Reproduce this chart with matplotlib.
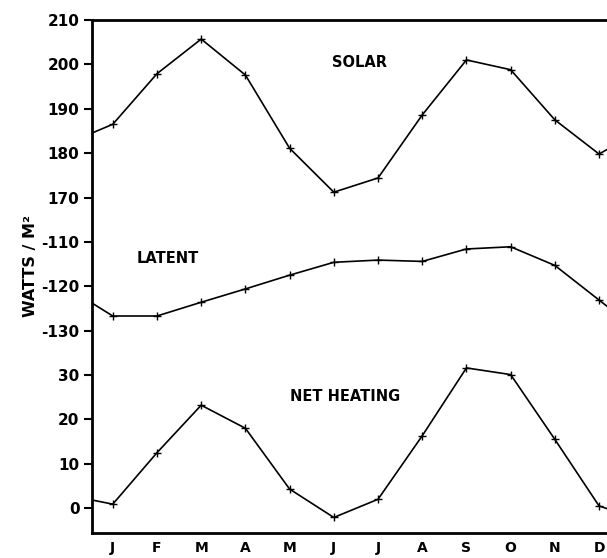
import numpy as np
import matplotlib.pyplot as plt

plt.rcParams['font.family'] = ['DejaVu Sans']
plt.rcParams['font.weight'] = 'bold'

months = ['J', 'F', 'M', 'A', 'M', 'J', 'J', 'A', 'S', 'O', 'N', 'D']

# monthly values (W/m^2)
solar = [186.5, 197.9, 205.7, 197.6, 181.1, 171.2, 174.4, 188.6, 201.0, 198.8, 187.5, 179.8]
latent = [-126.7, -126.7, -123.6, -120.6, -117.5, -114.6, -114.1, -114.4, -111.6, -111.1, -115.3, -123.1]
net_heating = [0.9, 12.5, 23.2, 18.0, 4.3, -2.1, 2.0, 16.3, 31.6, 30.1, 15.5, 0.5]

# values where the curves meet the left/right edge (Dec-Jan midpoint)
solar_ends = [184.4, 182.6]
latent_ends = [-123.6, -127.0]
net_ends = [1.9, -1.2]

# the three panels share one stacked axis: offsets put each block in its band
solar_offset = 0
latent_offset = 270
net_offset = 100

ticks = [210, 200, 190, 180, 170, -110, -120, -130, 30, 20, 10, 0]
tick_pos = [210, 200, 190, 180, 170, 160, 150, 140, 130, 120, 110, 100]

fig = plt.figure(figsize=(6.07, 5.58), dpi=100)
ax = fig.add_axes([92 / 607, 1 - 533 / 558, 1 - 92 / 607, (533 - 20) / 558])

x = np.arange(12)
xe = np.concatenate([[-0.5], x, [11.5]])

for vals, ends, off in [(solar, solar_ends, solar_offset),
                        (latent, latent_ends, latent_offset),
                        (net_heating, net_ends, net_offset)]:
    y = np.concatenate([[ends[0]], vals, [ends[1]]]) + off
    ax.plot(xe, y, color='black', lw=1.2)
    ax.plot(x, np.array(vals) + off, ls='none', marker='+', ms=6, mew=1.0, color='black')

ax.set_xlim(-0.47, 11.18)
ax.set_ylim(94.4, 210)
ax.set_xticks(x)
ax.set_xticklabels(months, fontsize=10, fontweight='bold')
ax.tick_params(axis='x', length=0, pad=6)
ax.set_yticks(tick_pos)
ax.set_yticklabels([str(t) for t in ticks], fontsize=11, fontweight='bold')
ax.tick_params(axis='y', direction='out', length=6, width=1.5, pad=3)

ax.spines['right'].set_visible(False)
for s in ['left', 'top', 'bottom']:
    ax.spines[s].set_linewidth(2)

ax.text(4.95, 200.5, 'SOLAR', fontsize=10.5, fontweight='bold', ha='left', va='center')
ax.text(0.54, 156.3, 'LATENT', fontsize=10.5, fontweight='bold', ha='left', va='center')
ax.text(4.0, 125.2, 'NET HEATING', fontsize=10.5, fontweight='bold', ha='left', va='center')

ax.set_ylabel('WATTS / M²', fontsize=11.5, fontweight='bold')
ax.yaxis.set_label_coords(-0.105, 0.52)

fig.savefig('out.png', dpi=100)
